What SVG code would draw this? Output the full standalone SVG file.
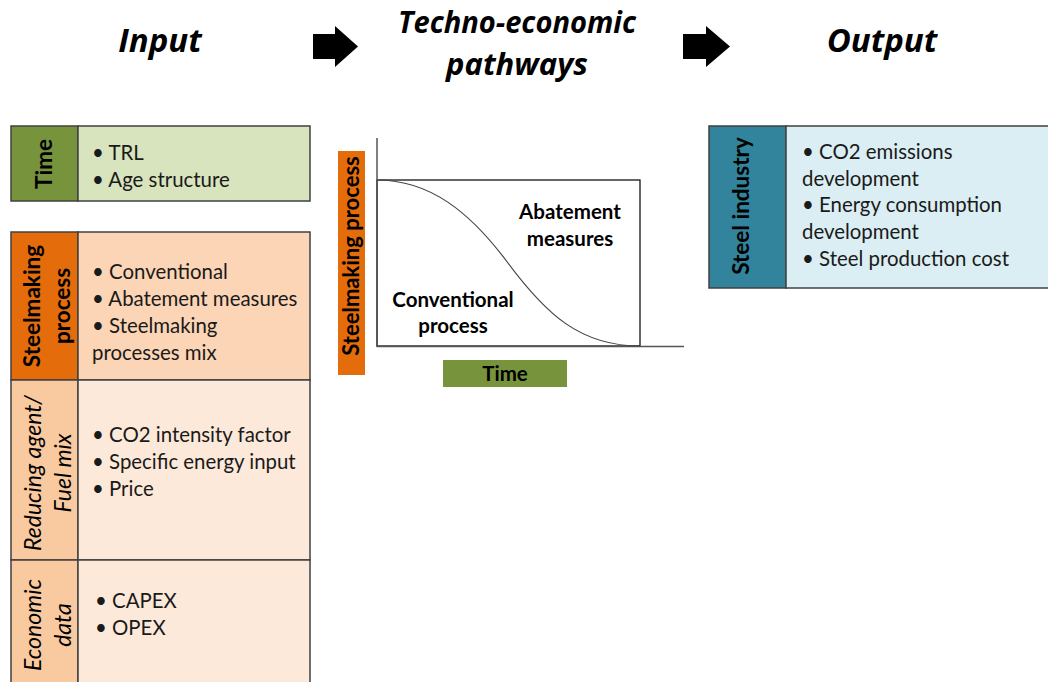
<svg xmlns="http://www.w3.org/2000/svg" width="1048" height="682" viewBox="0 0 1048 682">
<style>
.h{font-family:"Open Sans","Liberation Sans",sans-serif;font-style:italic;font-weight:bold;font-size:31px;fill:#000;text-anchor:middle}
.t{font-family:"Lato","Open Sans",sans-serif;font-size:20.4px;fill:#1a1a1a}
.lb{font-family:"Lato","Open Sans",sans-serif;font-size:22.5px;font-weight:bold;fill:#000;text-anchor:middle}
.li{font-family:"Lato","Open Sans",sans-serif;font-size:23px;font-style:italic;fill:#000;text-anchor:middle}
.cb{font-family:"Lato","Open Sans",sans-serif;font-size:20.5px;font-weight:bold;fill:#000;text-anchor:middle}
.bx{stroke:#404040;stroke-width:1.5}
</style>
<rect width="1048" height="682" fill="#fff"/>
<g id="headers">
<text class="h" x="160" y="52" style="font-size:33px">Input</text>
<text class="h" x="517" y="33" textLength="238" lengthAdjust="spacingAndGlyphs">Techno-economic</text>
<text class="h" x="517" y="75">pathways</text>
<text class="h" x="882" y="52" style="font-size:33px">Output</text>
</g>
<g id="connectors">
<path d="M313,34 H335 V26 L358,46.5 L335,67 V59 H313 Z" fill="#000"/>
<path d="M683,34 H706 V26 L730,46.5 L706,67 V59 H683 Z" fill="#000"/>
</g>
<g id="time">
<rect class="bx" x="11" y="126" width="67" height="75" fill="#77933C"/>
<rect class="bx" x="78" y="126" width="232" height="75" fill="#D7E4BD"/>
<text class="lb" transform="translate(52,164) rotate(-90)">Time</text>
<text class="t" x="92" y="160">• TRL</text>
<text class="t" x="92" y="187">• Age structure</text>
</g>
<g id="steelmaking">
<rect class="bx" x="11" y="232" width="67" height="148" fill="#E46C0A"/>
<rect class="bx" x="78" y="232" width="232" height="148" fill="#FBD5B5"/>
<text class="lb" transform="translate(40,306) rotate(-90)">Steelmaking</text>
<text class="lb" transform="translate(70,306) rotate(-90)">process</text>
<text class="t" x="92" y="279">• Conventional</text>
<text class="t" x="92" y="306">• Abatement measures</text>
<text class="t" x="92" y="333">• Steelmaking</text>
<text class="t" x="92" y="360">processes mix</text>
</g>
<g id="reducing">
<rect class="bx" x="11" y="380" width="67" height="180" fill="#F9C9A0"/>
<rect class="bx" x="78" y="380" width="232" height="180" fill="#FDE9D9"/>
<text class="li" transform="translate(41,473) rotate(-90)">Reducing agent/</text>
<text class="li" transform="translate(71,473) rotate(-90)">Fuel mix</text>
<text class="t" x="92" y="442">• CO2 intensity factor</text>
<text class="t" x="92" y="469">• Specific energy input</text>
<text class="t" x="92" y="496">• Price</text>
</g>
<g id="economic">
<rect class="bx" x="11" y="560" width="67" height="130" fill="#F9C9A0"/>
<rect class="bx" x="78" y="560" width="232" height="130" fill="#FDE9D9"/>
<text class="li" transform="translate(41,625) rotate(-90)">Economic</text>
<text class="li" transform="translate(71,625) rotate(-90)">data</text>
<text class="t" x="95" y="608">• CAPEX</text>
<text class="t" x="95" y="635">• OPEX</text>
</g>
<g id="chart">
<rect x="377" y="180" width="263" height="166" fill="#fff" stroke="#000" stroke-width="1.2"/>
<line x1="377" y1="138" x2="377" y2="347" stroke="#555" stroke-width="1.5"/>
<line x1="377" y1="346.5" x2="684" y2="346.5" stroke="#555" stroke-width="1.5"/>
<path d="M377,180 C430,180 470,212 508,263 C546,314 580,346 640,346" fill="none" stroke="#444" stroke-width="1.2"/>
<rect x="338" y="151" width="27" height="224" fill="#E46C0A"/>
<text class="cb" transform="translate(359,256) rotate(-90)" style="font-size:22px">Steelmaking process</text>
<rect x="443" y="360" width="124" height="27" fill="#77933C"/>
<text class="cb" x="505" y="381">Time</text>
<text class="cb" x="570" y="219">Abatement</text>
<text class="cb" x="570" y="246">measures</text>
<text class="cb" x="453" y="307">Conventional</text>
<text class="cb" x="453" y="333">process</text>
</g>
<g id="steel-industry">
<rect class="bx" x="709" y="126" width="77" height="162" fill="#31849B"/>
<rect class="bx" x="786" y="126" width="270" height="162" fill="#DAEEF3"/>
<text class="lb" transform="translate(749,206) rotate(-90)">Steel industry</text>
<text class="t" x="802" y="159">• CO2 emissions</text>
<text class="t" x="802" y="186">development</text>
<text class="t" x="802" y="212">• Energy consumption</text>
<text class="t" x="802" y="239">development</text>
<text class="t" x="802" y="266">• Steel production cost</text>
</g>
</svg>
